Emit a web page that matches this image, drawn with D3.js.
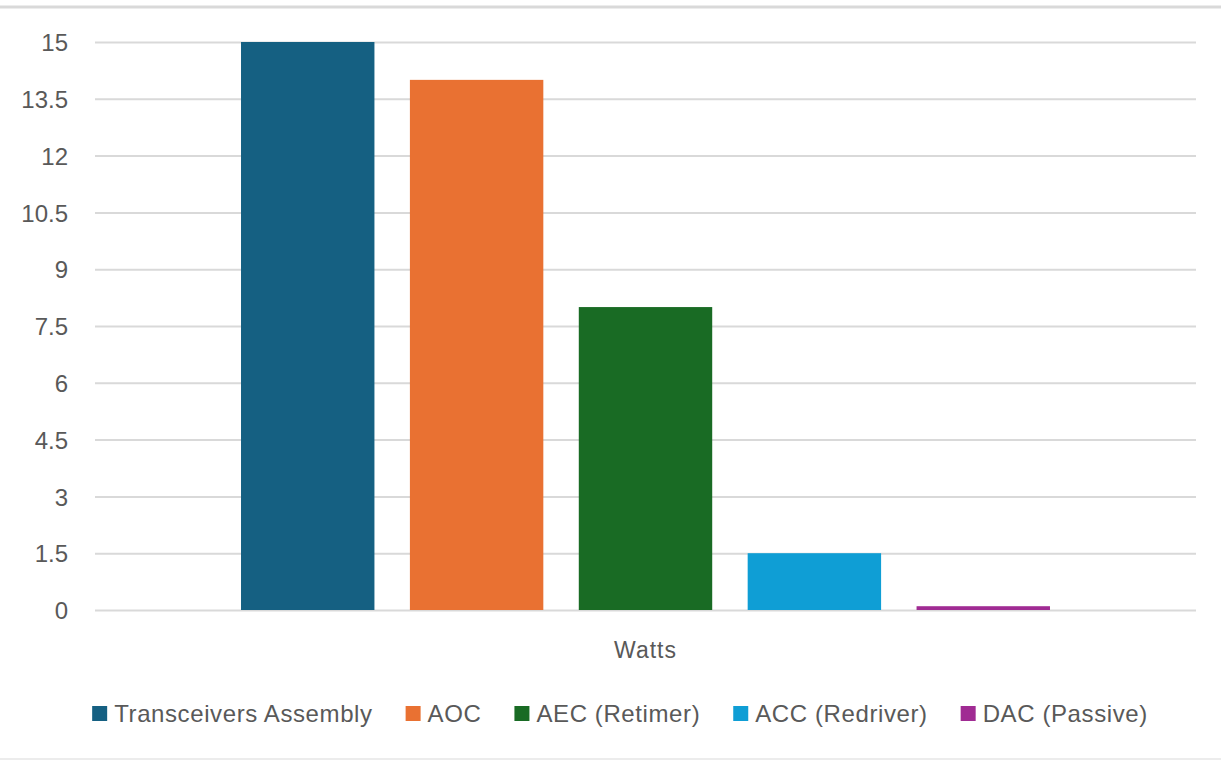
<!DOCTYPE html>
<html>
<head>
<meta charset="utf-8">
<script src="https://cdn.jsdelivr.net/npm/d3@7"></script>
<style>
  body { margin: 0; background: #fff; }
  svg { display: block; font-family: "Liberation Sans", Arial, sans-serif; }
</style>
</head>
<body>
<div id="chart"></div>
<script>
// data
const categories = ['Watts'];
const seriesNames = ['Transceivers Assembly', 'AOC', 'AEC (Retimer)', 'ACC (Redriver)', 'DAC (Passive)'];
const seriesValues = [15, 14, 8, 1.5, 0.1];
const yTicks = [0, 1.5, 3, 4.5, 6, 7.5, 9, 10.5, 12, 13.5, 15];
const colors = ['#156082', '#E97132', '#196B24', '#0F9ED5', '#A02B93'];

var width = 1221, height = 761;
var plotLeft = 95, plotRight = 1196, plotTop = 42, plotBottom = 610;

var svg = d3.select('#chart').append('svg')
  .attr('width', width).attr('height', height);

// frame lines top / bottom
svg.append('line').attr('x1', 0).attr('x2', width).attr('y1', 7).attr('y2', 7)
  .attr('stroke', '#d9d9d9').attr('stroke-width', 3);
svg.append('line').attr('x1', 0).attr('x2', width).attr('y1', 759).attr('y2', 759)
  .attr('stroke', '#ececec').attr('stroke-width', 2);

var y = d3.scaleLinear().domain([0, 15]).range([plotBottom, plotTop]);

var x0 = d3.scaleBand().domain(categories).range([plotLeft, plotRight]).padding(0.1529);
var x1 = d3.scaleBand().domain(seriesNames).range([0, x0.bandwidth()]).paddingInner(0.21);

var color = d3.scaleOrdinal().domain(seriesNames).range(colors);

// gridlines + tick labels
var yAxis = d3.axisLeft(y).tickValues(yTicks).tickSize(-(plotRight - plotLeft)).tickFormat(d3.format('~g'));
var ga = svg.append('g').attr('transform', 'translate(' + plotLeft + ',0)').call(yAxis);
ga.select('.domain').remove();
ga.selectAll('.tick line').attr('stroke', '#d9d9d9').attr('stroke-width', 2);
ga.selectAll('.tick text')
  .attr('x', -27)
  .attr('dy', '0.36em')
  .attr('fill', '#595959')
  .style('font-family', '"Liberation Sans", Arial, sans-serif')
  .style('font-size', '24px');

// bars
var rows = seriesNames.map(function(n, i) { return { key: n, value: seriesValues[i], cat: categories[0] }; });
svg.append('g').selectAll('rect')
  .data(rows)
  .enter()
  .append('rect')
  .attr('x', function(d) { return x0(d.cat) + x1(d.key); })
  .attr('y', function(d) { return y(d.value); })
  .attr('width', x1.bandwidth())
  .attr('height', function(d) { return y(0) - y(d.value); })
  .attr('fill', function(d) { return color(d.key); });

// category label
svg.append('text')
  .attr('x', x0('Watts') + x0.bandwidth() / 2)
  .attr('y', 658)
  .attr('text-anchor', 'middle')
  .attr('fill', '#595959')
  .style('font-size', '23px')
  .style('letter-spacing', '1px')
  .text(categories[0]);

// legend, centered
var gap = 33;
var legend = svg.append('g');
var items = legend.selectAll('g').data(seriesNames).enter().append('g');
items.append('rect').attr('width', 15).attr('height', 15).attr('y', -16)
  .attr('fill', function(d) { return color(d); });
items.append('text').attr('x', 22).attr('y', 0)
  .attr('fill', '#595959').style('font-size', '24px')
  .style('letter-spacing', '0.6px')
  .text(function(d) { return d; });

var pos = 0;
items.each(function() {
  var g = d3.select(this);
  g.attr('transform', 'translate(' + pos + ',0)');
  pos += 22 + g.select('text').node().getComputedTextLength() + gap;
});
pos -= gap;
legend.attr('transform', 'translate(' + (620 - pos / 2) + ',722)');
</script>
</body>
</html>
